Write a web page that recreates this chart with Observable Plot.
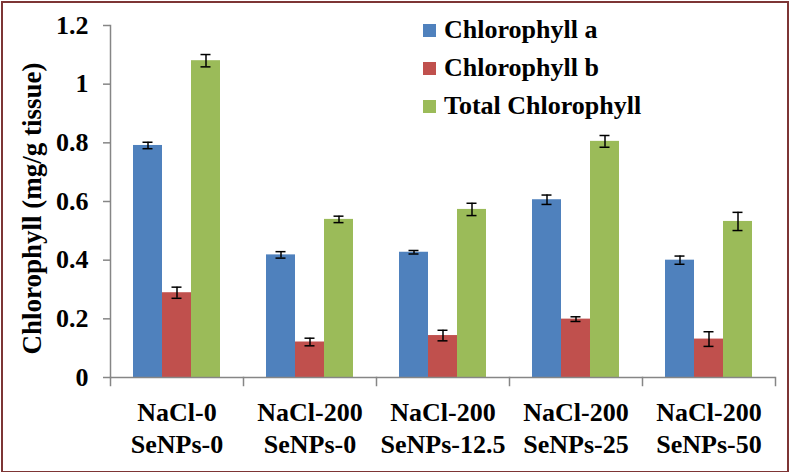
<!DOCTYPE html>
<html>
<head>
<meta charset="utf-8">
<script src="https://cdn.jsdelivr.net/npm/d3@7"></script>
<script src="https://cdn.jsdelivr.net/npm/@observablehq/plot@0.6"></script>
<style>
  html, body { margin: 0; padding: 0; background: #fff; }
  #wrap { position: relative; width: 790px; height: 472px; overflow: hidden; font-family: "Liberation Serif", "Times New Roman", serif; font-weight: bold; }
  #border { position: absolute; left: 1px; top: 1px; width: 784px; height: 468px; border: 2px solid #7d3535; pointer-events: none; }
  #chart { position: absolute; left: 0; top: 0; }
  #legend { position: absolute; left: 423px; top: 11px; font-size: 26px; line-height: 38px; color: #000; }
  #legend .row { display: flex; align-items: center; white-space: nowrap; }
  #legend .sw { width: 13px; height: 13px; margin-right: 8px; }
</style>
</head>
<body>
<div id="wrap">
  <div id="chart"></div>
  <div id="legend"></div>
  <div id="border"></div>
</div>
<script>
const categories = ["NaCl-0\nSeNPs-0", "NaCl-200\nSeNPs-0", "NaCl-200\nSeNPs-12.5", "NaCl-200\nSeNPs-25", "NaCl-200\nSeNPs-50"];
const seriesNames = ["Chlorophyll a", "Chlorophyll b", "Total Chlorophyll"];
const seriesColors = ["#4F81BD", "#C0504D", "#9BBB59"];
const chlA = [0.791, 0.418, 0.427, 0.606, 0.400];
const chlAErr = [0.011, 0.011, 0.006, 0.016, 0.014];
const chlB = [0.289, 0.121, 0.143, 0.199, 0.131];
const chlBErr = [0.019, 0.013, 0.018, 0.008, 0.025];
const chlTotal = [1.080, 0.539, 0.573, 0.805, 0.532];
const chlTotalErr = [0.021, 0.011, 0.021, 0.020, 0.031];
const yTicks = [0, 0.2, 0.4, 0.6, 0.8, 1.0, 1.2];

const values = [chlA, chlB, chlTotal];
const errors = [chlAErr, chlBErr, chlTotalErr];
const data = [];
categories.forEach((c, i) => {
  seriesNames.forEach((s, j) => {
    data.push({category: c, series: s, value: values[j][i], err: errors[j][i]});
  });
});

const axisGray = "#868686";
const font = "Liberation Serif, Times New Roman, serif";

const chart = Plot.plot({
  width: 790,
  height: 472,
  marginTop: 25,
  marginBottom: 95,
  marginLeft: 110,
  marginRight: 15,
  style: {fontFamily: font, fontWeight: "bold", color: "#000", background: "transparent", overflow: "visible"},
  fx: {domain: categories, padding: 0, label: null},
  x: {domain: seriesNames, paddingInner: 0, paddingOuter: 0.75, axis: null},
  y: {domain: [0, 1.2], ticks: yTicks, label: null},
  color: {domain: seriesNames, range: seriesColors},
  marks: [
    Plot.barY(data, {fx: "category", x: "series", y: "value", fill: "series"}),
    Plot.ruleX(data, {fx: "category", x: "series", y1: d => d.value - d.err, y2: d => d.value + d.err, stroke: "#000", strokeWidth: 1.5}),
    Plot.tickY(data, {fx: "category", x: "series", y: d => d.value + d.err, stroke: "#000", strokeWidth: 1.5, insetLeft: 9.5, insetRight: 9.5}),
    Plot.tickY(data, {fx: "category", x: "series", y: d => d.value - d.err, stroke: "#000", strokeWidth: 1.5, insetLeft: 9.5, insetRight: 9.5}),
    Plot.ruleY([0], {stroke: axisGray, strokeWidth: 1.5}),
    Plot.frame({anchor: "left", stroke: axisGray, strokeWidth: 1.5, facetAnchor: "left"}),
    Plot.frame({anchor: "left", stroke: axisGray, strokeWidth: 1.5, insetTop: 352, insetBottom: -8}),
    Plot.frame({anchor: "right", stroke: axisGray, strokeWidth: 1.5, insetTop: 352, insetBottom: -8, facetAnchor: "right"}),
    Plot.axisY({ticks: yTicks, tickFormat: d => String(+d.toFixed(1)), tickSize: 7, tickPadding: 15, stroke: axisGray, strokeWidth: 1.5, fontSize: 26, fill: "#000", label: null}),
    Plot.axisFx({anchor: "bottom", tickSize: 0, tickPadding: 21, fontSize: 26, lineHeight: 1.22, fill: "#000", label: null}),
    Plot.text(["Chlorophyll (mg/g tissue)"], {frameAnchor: "left", textAnchor: "middle", rotate: -90, dx: -78, dy: 7, fontSize: 27, fill: "#000", facetAnchor: "left"})
  ]
});
document.getElementById("chart").appendChild(chart);

const color = chart.scale("color");
const legend = document.getElementById("legend");
color.domain.forEach((name, i) => {
  const row = document.createElement("div");
  row.className = "row";
  const sw = document.createElement("span");
  sw.className = "sw";
  sw.style.background = color.range[i];
  const label = document.createElement("span");
  label.textContent = name;
  row.appendChild(sw);
  row.appendChild(label);
  legend.appendChild(row);
});
</script>
</body>
</html>
